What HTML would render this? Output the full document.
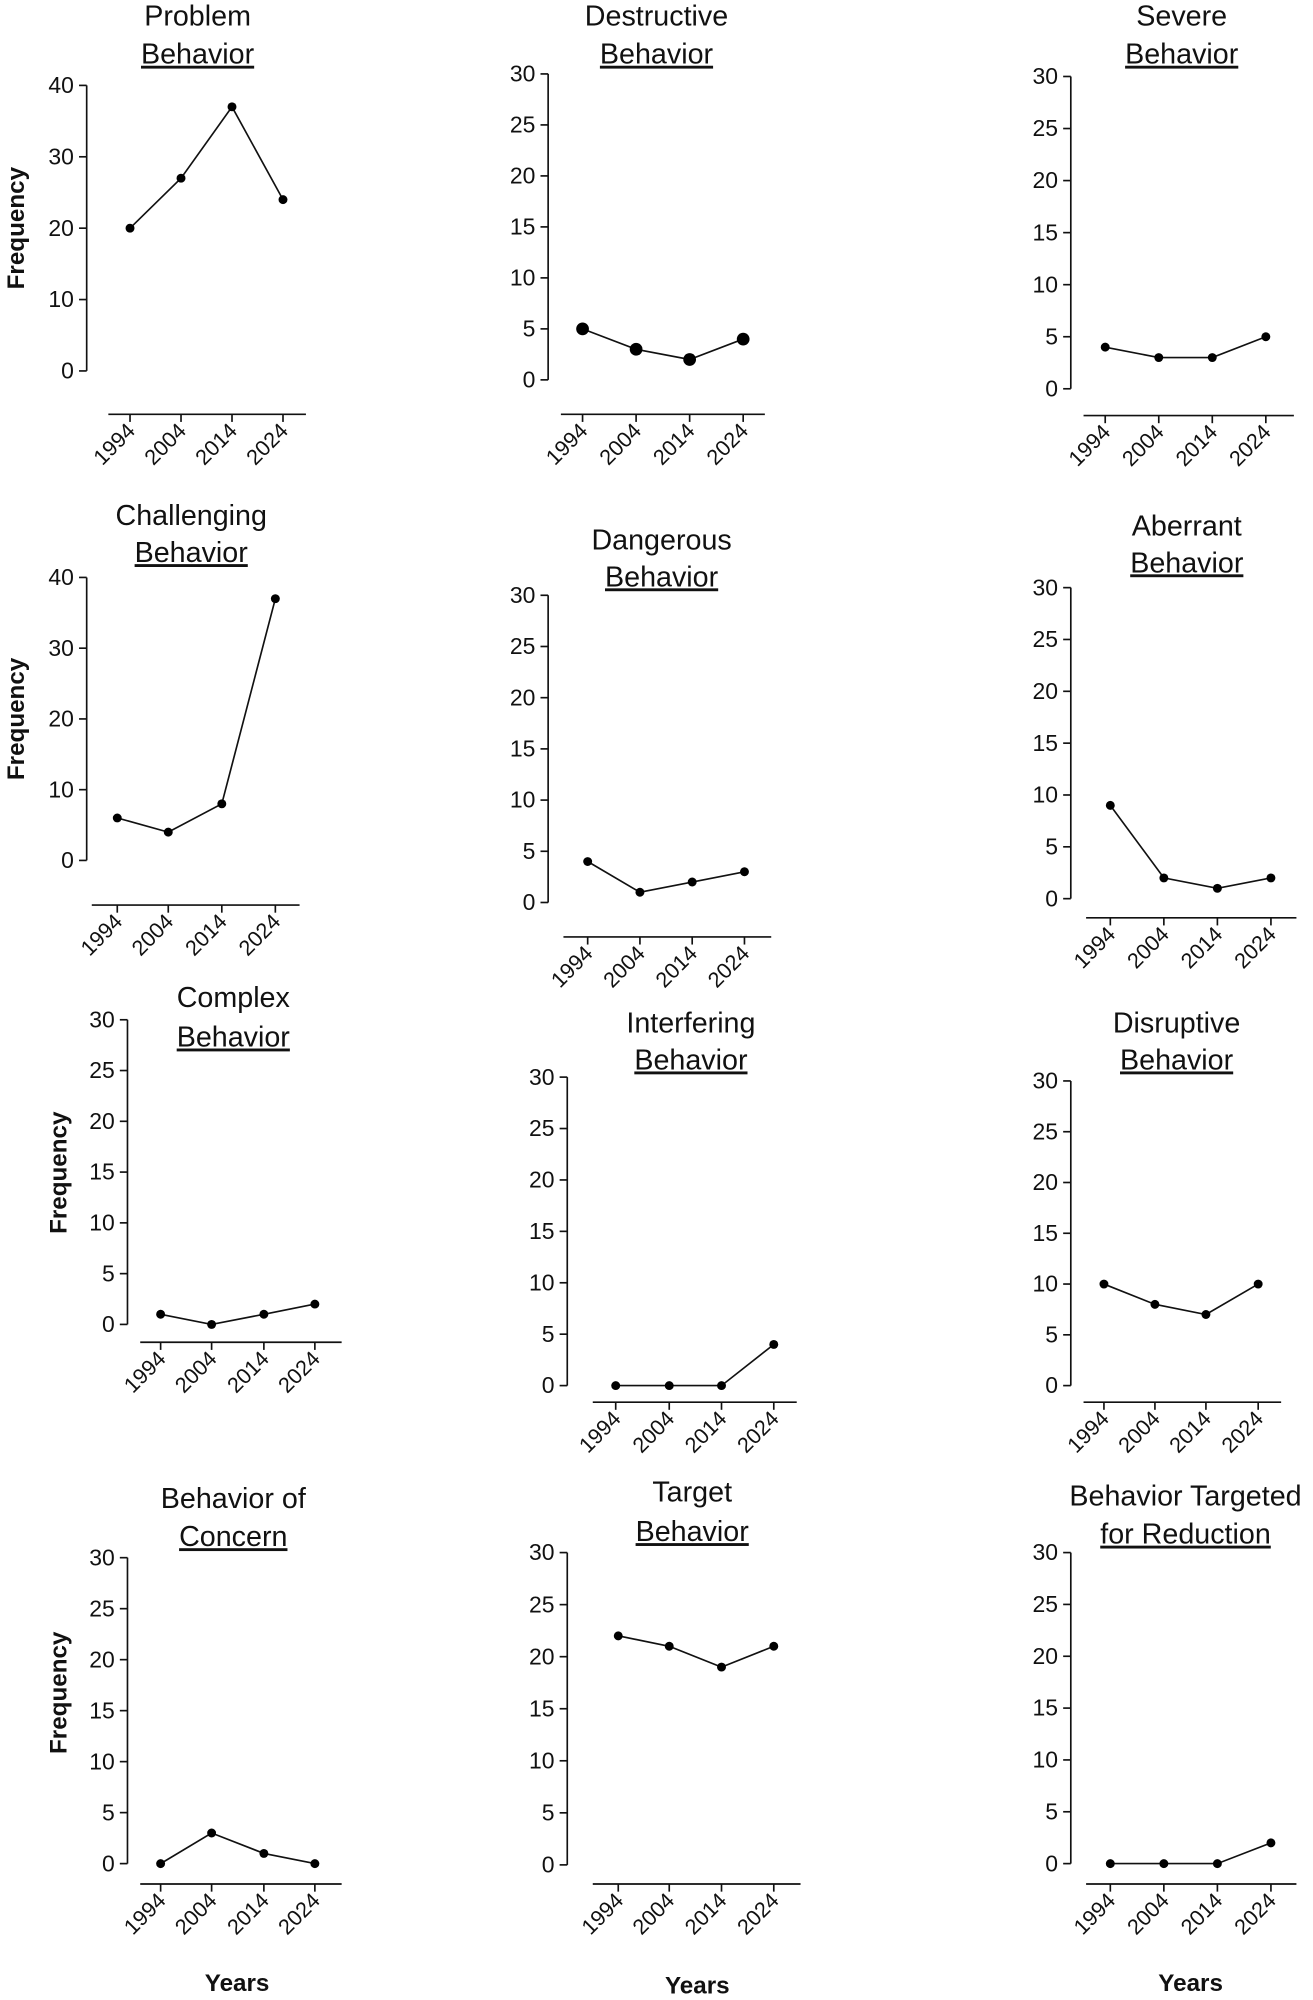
<!DOCTYPE html>
<html><head><meta charset="utf-8"><style>
html,body{margin:0;padding:0;background:#fff}
svg{display:block}
text{font-family:"Liberation Sans",Arial,sans-serif;fill:#111}
</style></head><body>
<svg id="s" width="1313" height="2000" viewBox="0 0 1030 1569" preserveAspectRatio="none" xmlns="http://www.w3.org/2000/svg"></svg>
<script>
const P=[
{t:["Problem","Behavior"],tx:155,ty:[12,42],ax:68,ymax:40,step:10,yTop:67,y0:291,xa:[85,240],xy:325,ticks:[102,142,182,222],v:[20,27,37,24],f:[12,179],r:3.5},
{t:["Destructive","Behavior"],tx:515,ty:[12,42],ax:430,ymax:30,step:5,yTop:58,y0:298,xa:[440,600],xy:325,ticks:[457,499,541,583],v:[5,3,2,4],r:5},
{t:["Severe","Behavior"],tx:927,ty:[12,42],ax:840,ymax:30,step:5,yTop:60,y0:305,xa:[850,1015],xy:326,ticks:[867,909,951,993],v:[4,3,3,5],r:3.5},
{t:["Challenging","Behavior"],tx:150,ty:[404,433],ax:68,ymax:40,step:10,yTop:453,y0:675,xa:[72,235],xy:710,ticks:[92,132,174,216],v:[6,4,8,37],f:[12,564],r:3.5},
{t:["Dangerous","Behavior"],tx:519,ty:[423,452],ax:430,ymax:30,step:5,yTop:467,y0:708,xa:[442,605],xy:735,ticks:[461,502,543,584],v:[4,1,2,3],r:3.5},
{t:["Aberrant","Behavior"],tx:931,ty:[412,441],ax:840,ymax:30,step:5,yTop:461,y0:705,xa:[852,1017],xy:720,ticks:[871,913,955,997],v:[9,2,1,2],r:3.5},
{t:["Complex","Behavior"],tx:183,ty:[782,813],ax:100,ymax:30,step:5,yTop:800,y0:1039,xa:[110,268],xy:1053,ticks:[126,166,207,247],v:[1,0,1,2],f:[45,920],r:3.5},
{t:["Interfering","Behavior"],tx:542,ty:[802,831],ax:445,ymax:30,step:5,yTop:845,y0:1087,xa:[465,625],xy:1100,ticks:[483,525,566,607],v:[0,0,0,4],r:3.5},
{t:["Disruptive","Behavior"],tx:923,ty:[802,831],ax:840,ymax:30,step:5,yTop:848,y0:1087,xa:[850,1005],xy:1100,ticks:[866,906,946,987],v:[10,8,7,10],r:3.5},
{t:["Behavior of","Concern"],tx:183,ty:[1175,1205],ax:100,ymax:30,step:5,yTop:1222,y0:1462,xa:[110,268],xy:1478,ticks:[126,166,207,247],v:[0,3,1,0],f:[45,1328],yr:[186,1556],r:3.5},
{t:["Target","Behavior"],tx:543,ty:[1170,1201],ax:445,ymax:30,step:5,yTop:1218,y0:1463,xa:[465,628],xy:1478,ticks:[485,525,566,607],v:[22,21,19,21],yr:[547,1558],r:3.5},
{t:["Behavior Targeted","for Reduction"],tx:930,ty:[1173,1203],ax:840,ymax:30,step:5,yTop:1218,y0:1462,xa:[852,1017],xy:1478,ticks:[871,913,955,997],v:[0,0,0,2],yr:[934,1556],r:3.5}
];
let h="";const yrs=["1994","2004","2014","2024"];
for(const p of P){
 const Y=v=>p.y0-(p.y0-p.yTop)*v/p.ymax;
 h+=`<text x="${p.tx}" y="${p.ty[0]+8}" font-size="22.5" text-anchor="middle">${p.t[0]}</text>`;
 h+=`<text x="${p.tx}" y="${p.ty[1]+8}" font-size="22.5" text-anchor="middle" text-decoration="underline">${p.t[1]}</text>`;
 h+=`<line x1="${p.ax}" y1="${p.yTop}" x2="${p.ax}" y2="${p.y0}" stroke="#111" stroke-width="1.3"/>`;
 for(let v=0;v<=p.ymax;v+=p.step){const y=Y(v);
  h+=`<line x1="${p.ax-6}" y1="${y}" x2="${p.ax}" y2="${y}" stroke="#111" stroke-width="1.3"/>`;
  h+=`<text x="${p.ax-10}" y="${y+6}" font-size="18" text-anchor="end">${v}</text>`;}
 h+=`<line x1="${p.xa[0]}" y1="${p.xy}" x2="${p.xa[1]}" y2="${p.xy}" stroke="#111" stroke-width="1.3"/>`;
 p.ticks.forEach((x,i)=>{
  h+=`<line x1="${x}" y1="${p.xy}" x2="${x}" y2="${p.xy+6}" stroke="#111" stroke-width="1.3"/>`;
  h+=`<text transform="translate(${x+5},${p.xy+14}) rotate(-45)" font-size="17" text-anchor="end">${yrs[i]}</text>`;});
 h+=`<polyline fill="none" stroke="#111" stroke-width="1.3" points="${p.ticks.map((x,i)=>x+","+Y(p.v[i])).join(" ")}"/>`;
 p.ticks.forEach((x,i)=>{h+=`<circle cx="${x}" cy="${Y(p.v[i])}" r="${p.r}" fill="#000"/>`;});
 if(p.f)h+=`<text transform="translate(${p.f[0]+7},${p.f[1]}) rotate(-90)" font-size="19" font-weight="bold" text-anchor="middle">Frequency</text>`;
 if(p.yr)h+=`<text x="${p.yr[0]}" y="${p.yr[1]+6}" font-size="19" font-weight="bold" text-anchor="middle">Years</text>`;
}
document.getElementById("s").innerHTML=h;
</script>
</body></html>
